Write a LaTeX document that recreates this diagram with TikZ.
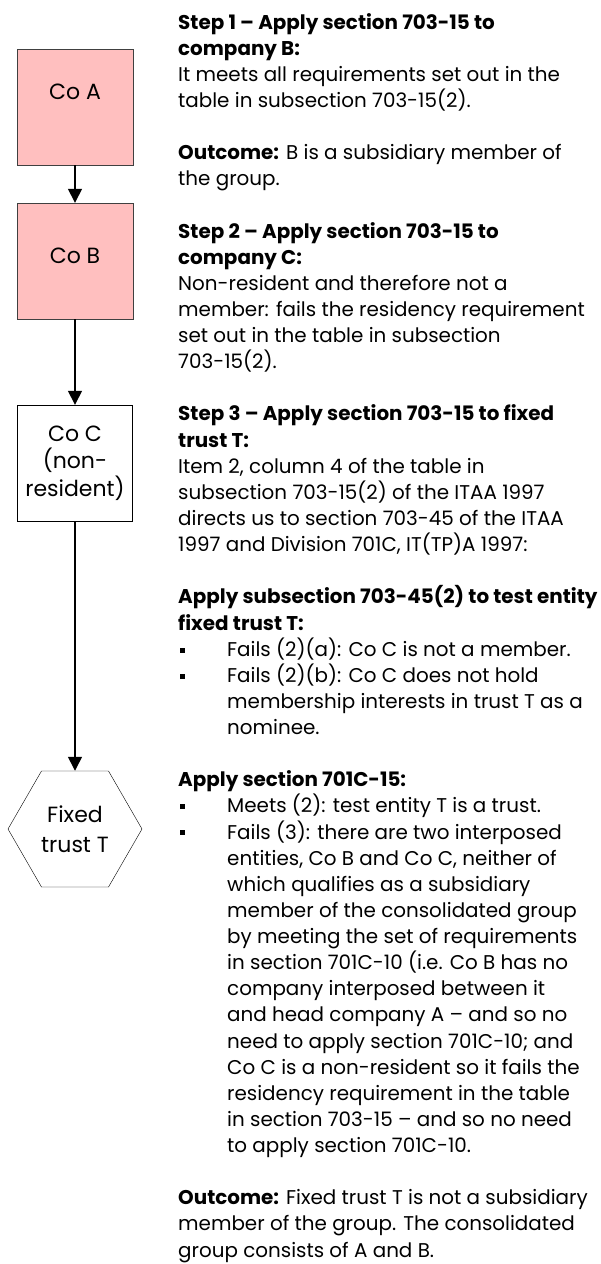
\documentclass[tikz,border=0pt]{standalone}
\usepackage{fontspec}
\setmainfont{Poppins}
\usetikzlibrary{shapes.geometric, arrows.meta}

\definecolor{copink}{RGB}{255,191,191}

\begin{document}
\begin{tikzpicture} [
  x=1pt,
  y=-1pt,
  font=\fontsize{19.9}{26.13}\selectfont,
  entity/.style={draw=black!75, fill=copink, minimum width=116pt, inner sep=0pt,
    font=\fontsize{22}{27.5}\selectfont},
  plainbox/.style={draw, fill=white, minimum width=115pt, minimum height=116pt, inner sep=0pt, align=center,
    font=\fontsize{22}{27.5}\selectfont},
  trustbox/.style={draw, regular polygon, regular polygon sides=6, minimum size=134pt, inner sep=0pt, align=center,
    font=\fontsize{22}{30}\selectfont},
  link/.style={-{Triangle[width=14pt, length=14pt]}, line width=1.5pt},
  body/.style={anchor=base west, align=left, inner sep=0pt},
  bulletsq/.style={fill=black, minimum size=5pt, inner sep=0pt}
  ]
  \useasboundingbox (0,0) rectangle (601,1264);

  % entities
  \node(coA)[entity, text height=50pt, text depth=66pt, at={(75,107)}]{Co A};
  \node(coB)[entity, text height=60pt, text depth=56pt, at={(75,261)}]{Co B};
  \node(coC)[plainbox, at={(75,463)}]{Co C\\(non-\\resident)};
  \node(trustT)[trustbox, at={(75,829)}]{Fixed\\trust T};

  \draw[link] (coA) -- (coB);
  \draw[link] (coB) -- (coC);
  \draw[link] (coC) -- (trustT);

  % steps (placed by the baseline of their last line)
  \node(step1)[body, at={(178,107.4)}]{\bfseries Step 1 – Apply section 703-15 to\\
    \bfseries company B:\\
    It meets all requirements set out in the\\
    table in subsection 703-15(2).};
  \node(outcome1)[body, at={(178,185.8)}]{\textbf{Outcome:} B is a subsidiary member of\\
    the group.};
  \node(step2)[body, at={(178,368.7)}]{\bfseries Step 2 – Apply section 703-15 to\\
    \bfseries company C:\\
    Non-resident and therefore not a\\
    member: fails the residency requirement\\
    set out in the table in subsection\\
    703-15(2).};
  \node(step3)[body, at={(178,551.6)}]{\bfseries Step 3 – Apply section 703-15 to fixed\\
    \bfseries trust T:\\
    Item 2, column 4 of the table in\\
    subsection 703-15(2) of the ITAA 1997\\
    directs us to section 703-45 of the ITAA\\
    1997 and Division 701C, IT(TP)A 1997:};
  \node(test45)[body, at={(178,630)}]{\bfseries Apply subsection 703-45(2) to test entity\\
    \bfseries fixed trust T:};
  \node(b2a)[bulletsq, at={(182.5,650)}]{};
  \node(fail2a)[body, at={(227,656.1)}]{Fails (2)(a): Co C is not a member.};
  \node(b2b)[bulletsq, at={(182.5,676.2)}]{};
  \node(fail2b)[body, at={(227,734.5)}]{Fails (2)(b): Co C does not hold\\
    membership interests in trust T as a\\
    nominee.};
  \node(apply15)[body, at={(178,786.8)}]{\bfseries Apply section 701C-15:};
  \node(bm2)[bulletsq, at={(182.5,806.8)}]{};
  \node(meets2)[body, at={(227,812.9)}]{Meets (2): test entity T is a trust.};
  \node(b3)[bulletsq, at={(182.5,832.9)}]{};
  \node(fail3)[body, at={(227,1152.6)}]{Fails (3): there are two interposed\\
    entities, Co B and Co C, neither of\\
    which qualifies as a subsidiary\\
    member of the consolidated group\\
    by meeting the set of requirements\\
    in section 701C-10 (i.e. Co B has no\\
    company interposed between it\\
    and head company A – and so no\\
    need to apply section 701C-10; and\\
    Co C is a non-resident so it fails the\\
    residency requirement in the table\\
    in section 703-15 – and so no need\\
    to apply section 701C-10.};
  \node(outcome2)[body, at={(178,1257.1)}]{\textbf{Outcome:} Fixed trust T is not a subsidiary\\
    member of the group. The consolidated\\
    group consists of A and B.};
\end{tikzpicture}
\end{document}
